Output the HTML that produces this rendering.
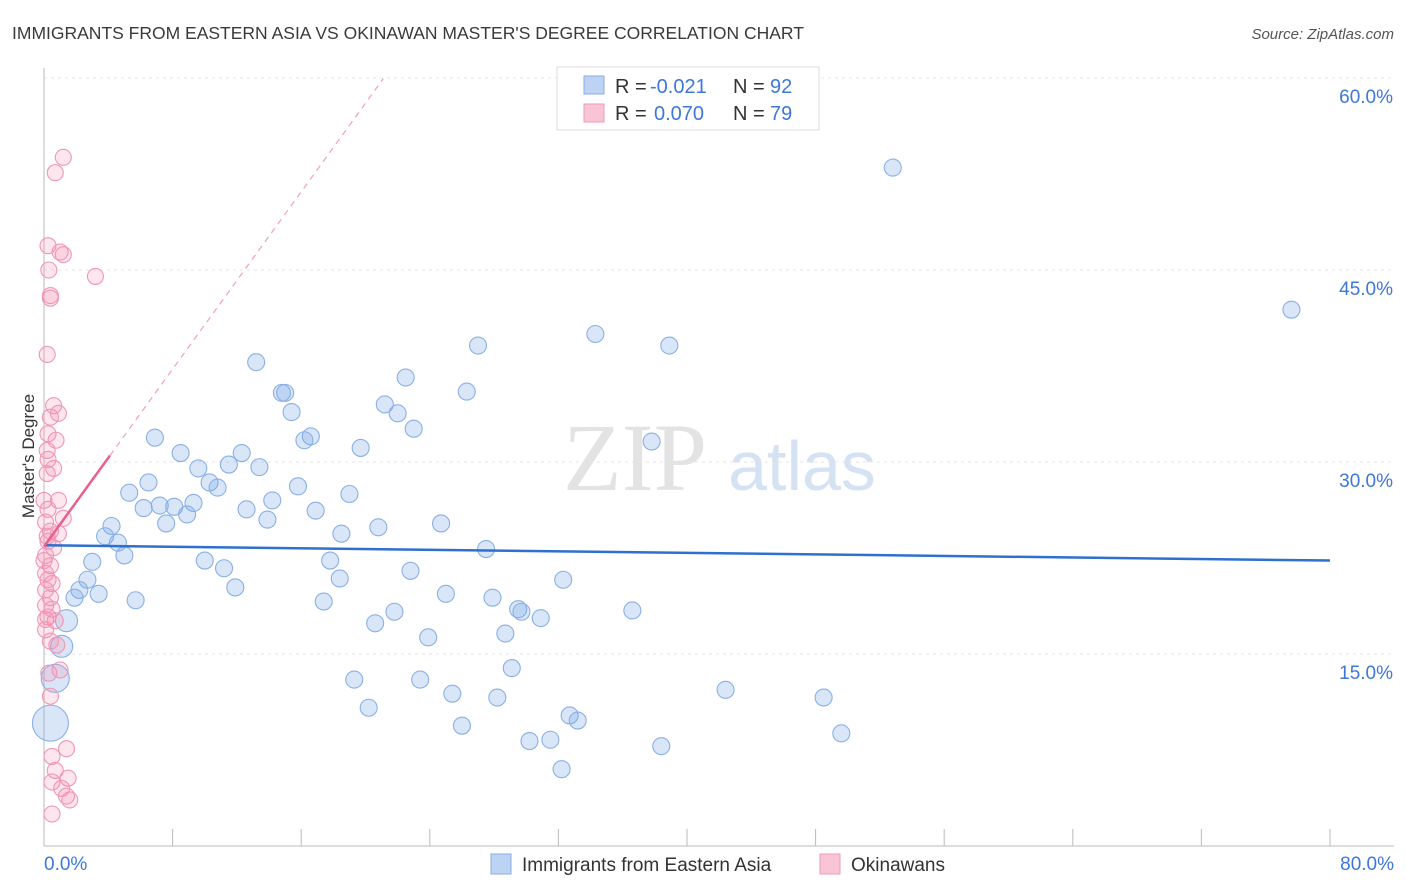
<!DOCTYPE html>
<html><head><meta charset="utf-8">
<style>
body{margin:0;background:#fff;font-family:"Liberation Sans",sans-serif;}
svg{display:block}
</style></head>
<body>
<svg id="chart" width="1406" height="892">
<text x="12" y="39" font-size="17.5" fill="#3a3a3a">IMMIGRANTS FROM EASTERN ASIA VS OKINAWAN MASTER'S DEGREE CORRELATION CHART</text>
<text x="1394" y="39" font-size="15" fill="#555" font-style="italic" text-anchor="end">Source: ZipAtlas.com</text>
<text x="34" y="456" font-size="17" fill="#333" text-anchor="middle" transform="rotate(-90 34 456)">Master's Degree</text>
<g>
<text x="635" y="490" font-size="96" fill="#e3e3e3" font-family="Liberation Serif,serif" text-anchor="middle">ZIP</text>
<text x="802" y="490" font-size="70" fill="#d4e2f4" text-anchor="middle">atlas</text>
</g>
<g id="grid"></g>
<g id="axes"></g>
<g id="blue"></g>
<g id="pink"></g>
<g id="trends"></g>
<g>
<rect x="557" y="67" width="262" height="63" fill="#fff" stroke="#ddd"/>
<rect x="584" y="76" width="20" height="18" fill="#bcd3f3" stroke="#88aee6"/>
<rect x="584" y="104" width="20" height="18" fill="#f9c5d6" stroke="#f09ab8"/>
<text x="615" y="93" font-size="20" fill="#333">R =</text>
<text x="650" y="93" font-size="20" fill="#3d78d8">-0.021</text>
<text x="733" y="93" font-size="20" fill="#333">N =</text>
<text x="770" y="93" font-size="20" fill="#3d78d8">92</text>
<text x="615" y="120" font-size="20" fill="#333">R =</text>
<text x="654" y="120" font-size="20" fill="#3d78d8">0.070</text>
<text x="733" y="120" font-size="20" fill="#333">N =</text>
<text x="770" y="120" font-size="20" fill="#3d78d8">79</text>
</g>
<g>
<rect x="491" y="854" width="20" height="20" fill="#bcd3f3" stroke="#88aee6"/>
<text x="522" y="871" font-size="19" fill="#333">Immigrants from Eastern Asia</text>
<rect x="820" y="854" width="20" height="20" fill="#f9c5d6" stroke="#f09ab8"/>
<text x="851" y="871" font-size="19" fill="#333">Okinawans</text>
</g>
</svg>
<script>
const blueX=[52.8,77.6,34.3,38.9,27.0,13.2,22.5,26.3,14.8,15.0,15.4,21.2,22.0,23.0,6.9,16.6,16.2,19.7,37.8,8.5,12.3,11.5,13.4,9.6,10.3,10.8,6.5,5.3,15.8,19.0,14.2,9.3,7.2,8.1,6.2,12.6,8.9,16.9,7.6,13.9,20.8,24.7,4.2,18.5,3.8,4.6,5.0,27.5,10.0,3.0,17.8,11.2,22.8,18.4,32.3,2.7,11.9,2.2,1.9,3.4,5.7,25.0,17.4,27.9,29.5,29.7,21.8,36.6,30.9,1.4,20.6,23.9,28.7,1.1,29.1,0.7,19.3,23.4,42.4,25.4,28.2,48.5,20.2,32.7,33.2,26.0,0.4,49.6,30.2,31.5,38.4,32.2];
const blueY=[53.0,41.9,40.0,39.1,39.1,37.8,36.6,35.5,35.4,35.4,33.9,34.5,33.8,32.6,31.9,32.0,31.7,31.1,31.6,30.7,30.7,29.8,29.6,29.5,28.4,28.0,28.4,27.6,28.1,27.5,27.0,26.8,26.6,26.5,26.4,26.3,25.9,26.2,25.2,25.5,24.9,25.2,25.0,24.4,24.2,23.7,22.7,23.2,22.3,22.2,22.3,21.7,21.5,20.9,20.8,20.8,20.2,20.0,19.4,19.7,19.2,19.7,19.1,19.4,18.5,18.3,18.3,18.4,17.8,17.6,17.4,16.3,16.6,15.6,13.9,13.1,13.0,13.0,12.2,11.9,11.6,11.6,10.8,10.2,9.8,9.4,9.6,8.8,8.2,8.3,7.8,6.0];
const blueBig={75:14,86:18,73:11,69:11};
const pinkX=[1.2,0.7,0.25,1.0,1.2,3.2,0.3,0.4,0.4,0.2,0.6,0.9,0.4,0.25,0.75,0.2,0.25,0.6,0.2,0.9,1.2,0.25,0.1,0.4,0.9,0.25,0.6,0.1,0.4,0.1,0.25,0.5,0.1,0.4,0.1,0.5,0.25,0.7,0.1,0.4,0.8,1.0,0.3,0.4,1.4,0.5,0.7,1.5,0.5,1.1,1.4,1.6,0.5,0,0.2,0,0.1];
const pinkY=[53.8,52.6,46.9,46.4,46.2,44.5,45.0,43.0,42.8,38.4,34.4,33.8,33.5,32.2,31.7,30.9,30.2,29.5,29.1,27.0,25.6,26.3,25.3,24.6,24.4,23.8,23.3,22.7,21.9,21.3,20.8,20.5,20.0,19.4,18.8,18.5,17.9,17.6,16.9,16.0,15.7,13.75,13.5,11.7,7.6,7.0,5.9,5.3,5.0,4.5,3.9,3.6,2.5,27.0,24.2,22.3,17.7];
const xTicks=[0,10,20,30,40,50,60,70,80];
const yTicks=[15,30,45,60];
const blueTrend=[23.5,22.3];
const pinkTrend=[23.4,30.5];
const NS="http://www.w3.org/2000/svg";
const X=v=>44+v*16.075, Y=v=>846-v*12.8;
function mk(tag,attrs,parent){const e=document.createElementNS(NS,tag);for(const k in attrs)e.setAttribute(k,attrs[k]);document.getElementById(parent).appendChild(e);return e;}
yTicks.forEach(t=>{
 const l=mk('line',{x1:44,x2:1394,y1:Y(t),y2:Y(t),stroke:'#e4e4e4','stroke-dasharray':'3,4'},'grid');
 
 
 const tx=mk('text',{x:1393,y:Y(t)+25,'font-size':19,fill:'#3d78d8','text-anchor':'end'},'grid');
 tx.textContent=t.toFixed(1)+'%';
 
 
});
const ax=mk('line',{x1:44,x2:1394,y1:846,y2:846,stroke:'#bbb'},'axes');


const ay=mk('line',{x1:44,x2:44,y1:68,y2:846,stroke:'#bbb'},'axes');


for(let i=1;i<=10;i++){const v=i*8;const t=mk('line',{x1:X(v),x2:X(v),y1:829,y2:846,stroke:'#bbb'},'axes');
 
 }
[[0,'start',44],[80,'end',1394]].forEach(([v,a,px])=>{const t=mk('text',{x:px,y:870,'font-size':19,fill:'#3d78d8','text-anchor':a},'axes');t.textContent=v.toFixed(1)+'%';
 
 });
blueX.forEach((v,i)=>{const c=mk('circle',{cx:X(v),cy:Y(blueY[i]),r:blueBig[i]||8.5,fill:'rgba(120,165,230,0.28)',stroke:'#8ab0e6','stroke-width':1.1},'blue');
 
 });
pinkX.forEach((v,i)=>{const c=mk('circle',{cx:X(v),cy:Y(pinkY[i]),r:8,fill:'rgba(245,140,175,0.22)',stroke:'#f096b6','stroke-width':1.1},'pink');
 
 });
const bt=mk('line',{x1:X(0),y1:Y(blueTrend[0]),x2:X(80),y2:Y(blueTrend[1]),stroke:'#2e6fcf','stroke-width':2.5},'trends');


const slope=(pinkTrend[1]-pinkTrend[0])/4.1;
const pd=mk('line',{x1:X(4.1),y1:Y(pinkTrend[1]),x2:X(21.1),y2:Y(pinkTrend[0]+slope*21.1),stroke:'#f0a0bc','stroke-width':1.2,'stroke-dasharray':'6,5'},'trends');


const pt=mk('line',{x1:X(0),y1:Y(pinkTrend[0]),x2:X(4.1),y2:Y(pinkTrend[1]),stroke:'#e8608e','stroke-width':2.5},'trends');


</script>
</body></html>
